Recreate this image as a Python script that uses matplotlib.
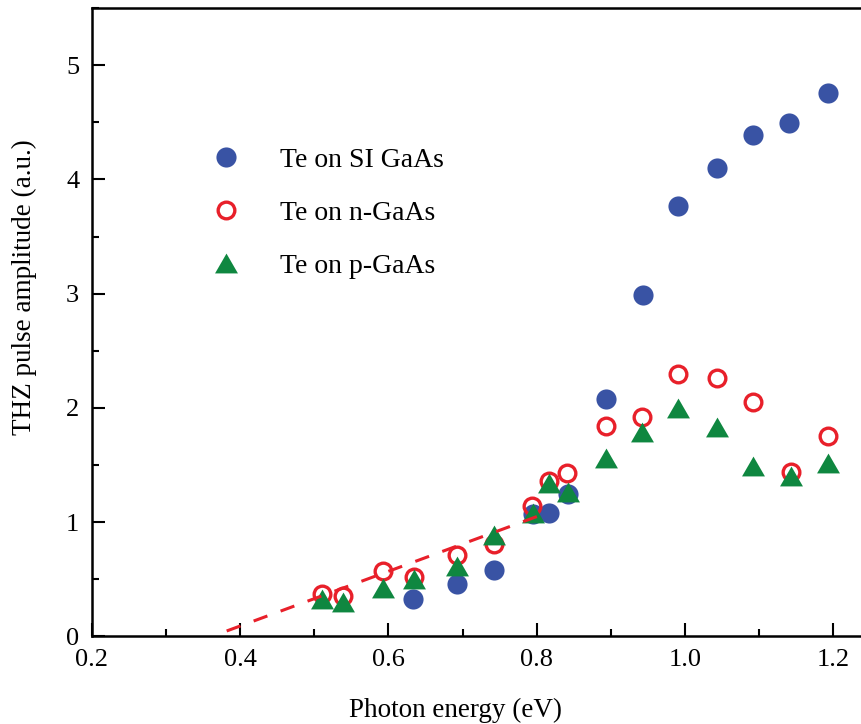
import matplotlib

matplotlib.use("Agg")
from matplotlib import pyplot as plt
from matplotlib.ticker import MultipleLocator

# Photon energy (eV) and THz pulse amplitude (a.u.) for each substrate
si_energy = [0.633, 0.692, 0.742, 0.795, 0.816, 0.842, 0.893, 0.943, 0.991, 1.043, 1.092, 1.140, 1.193]
si_amp = [0.33, 0.46, 0.58, 1.07, 1.08, 1.25, 2.08, 2.99, 3.77, 4.10, 4.39, 4.49, 4.76]

n_energy = [0.511, 0.539, 0.593, 0.634, 0.692, 0.742, 0.794, 0.816, 0.841, 0.893, 0.942, 0.991, 1.043, 1.091, 1.143, 1.193]
n_amp = [0.37, 0.35, 0.57, 0.52, 0.71, 0.81, 1.14, 1.36, 1.43, 1.84, 1.92, 2.30, 2.26, 2.05, 1.44, 1.75]

p_energy = [0.511, 0.539, 0.593, 0.634, 0.692, 0.742, 0.795, 0.816, 0.842, 0.893, 0.942, 0.991, 1.043, 1.091, 1.143, 1.193]
p_amp = [0.33, 0.30, 0.42, 0.50, 0.62, 0.89, 1.08, 1.34, 1.26, 1.56, 1.79, 2.00, 1.83, 1.49, 1.40, 1.52]

# linear extrapolation of the low-energy part
fit_energy = [0.382, 0.818]
fit_amp = [0.048, 1.092]

labels = ["Te on SI GaAs", "Te on n-GaAs", "Te on p-GaAs"]

BLUE = "#3953a4"
RED = "#e8202a"
GREEN = "#0f8740"
FONT = 20

plt.rcParams.update({
    "font.family": ["Liberation Serif", "DejaVu Serif"],
    "font.size": FONT,
})

fig = plt.figure(figsize=(8.61, 7.24), dpi=100)
ax = fig.add_axes([0.1065, 0.1209, 0.8959, 0.8681])

tri = [(-1.0, -0.866), (1.0, -0.866), (0.0, 0.866)]

ax.plot(si_energy, si_amp, ls="none", marker="o", ms=14.5, mfc=BLUE, mec=BLUE,
        mew=0, label=labels[0], zorder=3)
ax.plot(n_energy, n_amp, ls="none", marker="o", ms=12.0, mfc="none", mec=RED,
        mew=2.4, label=labels[1], zorder=4)
ax.plot(p_energy, p_amp, ls="none", marker=tri, ms=16.5, mfc=GREEN, mec=GREEN,
        mew=0, label=labels[2], zorder=5)
ax.plot(fit_energy, fit_amp, color=RED, lw=2.2, dashes=(4.8, 4.6), zorder=6)

ax.set_xlim(0.2, 1.24)
ax.set_ylim(0, 5.5)
ax.xaxis.set_major_locator(MultipleLocator(0.2))
ax.xaxis.set_minor_locator(MultipleLocator(0.1))
ax.yaxis.set_major_locator(MultipleLocator(1))
ax.yaxis.set_minor_locator(MultipleLocator(0.5))
ax.xaxis.set_major_formatter(plt.FuncFormatter(lambda v, _: f"{v:.1f}"))

ax.tick_params(which="both", direction="in", width=1.5, top=False, right=False,
               labelsize=19)
ax.tick_params(which="major", length=9.5, pad=9)
ax.tick_params(which="minor", length=5)

for side in ("left", "bottom", "top"):
    ax.spines[side].set_linewidth(1.8)
ax.spines["right"].set_visible(False)

ax.set_xlabel("Photon energy (eV)", fontsize=19.5)
ax.set_ylabel("THZ pulse amplitude (a.u.)", fontsize=19.5)
ax.xaxis.set_label_coords(0.471, -0.098)
ax.yaxis.set_label_coords(-0.071, 0.556)

ax.legend(loc="upper left", bbox_to_anchor=(0.1417, 0.778), frameon=False,
          numpoints=1, borderpad=0, borderaxespad=0, handlelength=1.8,
          handletextpad=1.04, labelspacing=0.99, fontsize=FONT)

fig.savefig("out.png", dpi=100, facecolor="white")
